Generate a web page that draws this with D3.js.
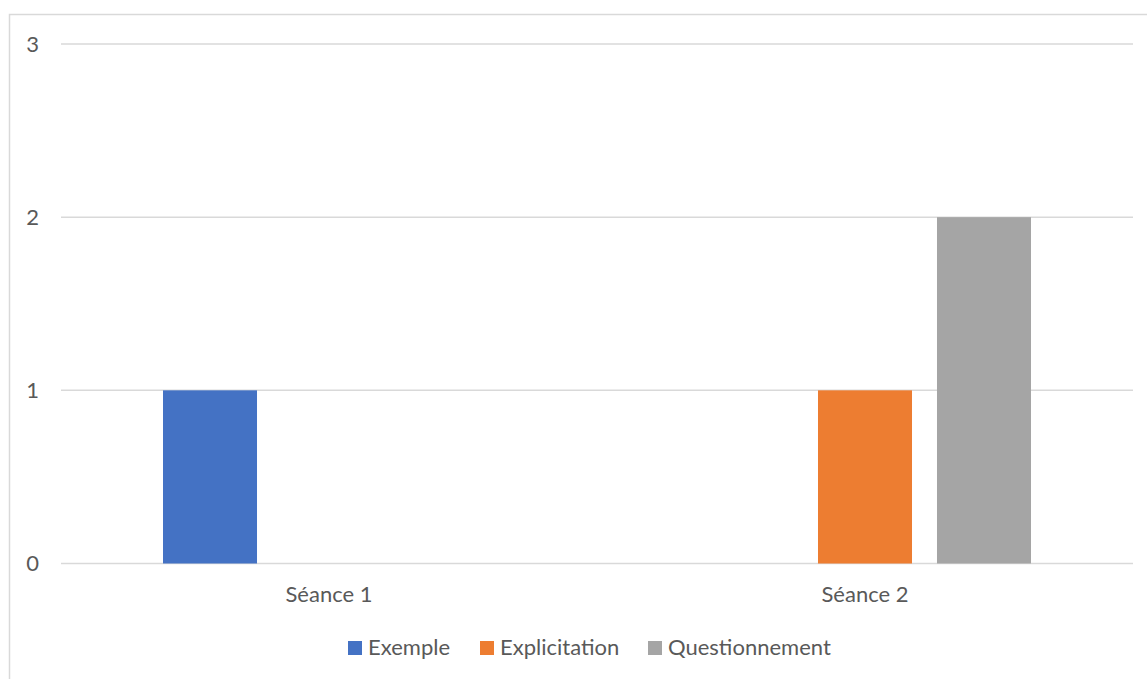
<!DOCTYPE html>
<html>
<head>
<meta charset="utf-8">
<script src="https://cdn.jsdelivr.net/npm/d3@7"></script>
<style>
  html, body { margin: 0; padding: 0; background: #fff; }
  svg { display: block; }
  text { font-family: Lato, "Open Sans", sans-serif; fill: #595959; }
</style>
</head>
<body>
<svg id="chart" width="1147" height="679"></svg>
<script>
const categories = ["Séance 1", "Séance 2"];
const seriesNames = ["Exemple", "Explicitation", "Questionnement"];
const seriesColors = ["#4472C4", "#ED7D31", "#A5A5A5"];
const exemple = [1, 0];
const explicitation = [0, 1];
const questionnement = [0, 2];
const yTicks = [0, 1, 2, 3];

const seriesValues = [exemple, explicitation, questionnement];

const svg = d3.select("#chart");
const plot = { left: 61, right: 1133, top: 44, bottom: 563.5 };
const FS = 22;

// chart frame
svg.append("rect")
  .attr("x", 9.5).attr("y", 14.5)
  .attr("width", 1160).attr("height", 700)
  .attr("fill", "none").attr("stroke", "#d9d9d9").attr("stroke-width", 1.5);

const x0 = d3.scaleBand().domain(categories).range([plot.left, plot.right]).padding(0);
const groupPad = 102;
const x1 = d3.scaleBand().domain(seriesNames)
  .range([groupPad, x0.bandwidth() - groupPad])
  .paddingInner(0.21).paddingOuter(0);
const y = d3.scaleLinear().domain([0, 3]).range([plot.bottom, plot.top]);

// gridlines
svg.append("g").selectAll("line").data(yTicks).join("line")
  .attr("x1", plot.left).attr("x2", plot.right)
  .attr("y1", d => y(d)).attr("y2", d => y(d))
  .attr("stroke", "#d9d9d9").attr("stroke-width", 1.5);

// y axis labels
const yAxis = d3.axisLeft(y).tickValues(yTicks).tickSize(0).tickPadding(0).tickFormat(d3.format("d"));
const gy = svg.append("g").attr("transform", "translate(39,0)").call(yAxis);
gy.select(".domain").remove();
gy.selectAll("text").attr("font-size", FS).attr("fill", "#595959")
  .style("font-family", "Lato, 'Open Sans', sans-serif");

// bars
const rows = [];
categories.forEach((c, ci) => {
  seriesNames.forEach((s, si) => {
    rows.push({ cat: c, series: s, value: seriesValues[si][ci], color: seriesColors[si] });
  });
});
svg.append("g").selectAll("rect").data(rows.filter(d => d.value > 0)).join("rect")
  .attr("x", d => x0(d.cat) + x1(d.series))
  .attr("width", x1.bandwidth())
  .attr("y", d => y(d.value))
  .attr("height", d => y(0) - y(d.value))
  .attr("fill", d => d.color);

// x axis labels
const xAxis = d3.axisBottom(x0).tickSize(0).tickPadding(0);
const gx = svg.append("g").attr("transform", "translate(0,602)").call(xAxis);
gx.select(".domain").remove();
gx.selectAll("text").attr("font-size", FS).attr("fill", "#595959")
  .style("font-family", "Lato, 'Open Sans', sans-serif")
  .attr("y", 0).attr("dy", "0");

// legend
const legendItems = [
  { name: seriesNames[0], color: seriesColors[0], x: 348 },
  { name: seriesNames[1], color: seriesColors[1], x: 480 },
  { name: seriesNames[2], color: seriesColors[2], x: 648 }
];
const lg = svg.append("g");
const li = lg.selectAll("g").data(legendItems).join("g")
  .attr("transform", d => `translate(${d.x},641)`);
li.append("rect").attr("width", 14).attr("height", 14).attr("fill", d => d.color);
li.append("text").attr("x", 20).attr("y", 14)
  .attr("font-size", FS).text(d => d.name);
</script>
</body>
</html>
